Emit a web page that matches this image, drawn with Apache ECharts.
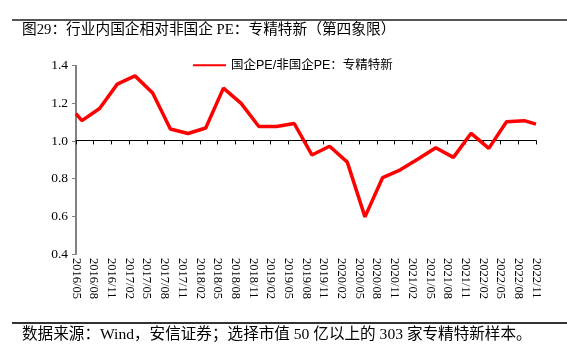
<!DOCTYPE html>
<html>
<head>
<meta charset="utf-8">
<script src="https://cdn.jsdelivr.net/npm/echarts@6/dist/echarts.min.js"></script>
<style>html,body{margin:0;padding:0;background:#fff;}#c{width:567px;height:358px;}</style>
</head>
<body>
<div id="c"></div>
<script>
// Axis month categories (ticks/labels every 3 months from 2016/05 to 2022/11)
const startYear = 2016, startMonth = 5, monthCount = 79;
const months = [];
for (let i = 0; i < monthCount; i++) {
  const m = startMonth - 1 + i;
  const y = startYear + Math.floor(m / 12);
  const mm = (m % 12) + 1;
  months.push(y + '/' + (mm < 10 ? '0' + mm : mm));
}
// Observation dates and values
const dates = ['2016/05','2016/06','2016/09','2016/12','2017/03','2017/06','2017/09','2017/12',
  '2018/03','2018/06','2018/09','2018/12','2019/03','2019/06','2019/09','2019/12',
  '2020/03','2020/06','2020/09','2020/12','2021/03','2021/06','2021/09','2021/12',
  '2022/03','2022/06','2022/09','2022/11'];
const ratio = [1.146,1.108,1.173,1.302,1.346,1.255,1.064,1.040,
  1.069,1.281,1.200,1.077,1.077,1.093,0.926,0.972,
  0.888,0.597,0.806,0.847,0.905,0.964,0.913,1.041,
  0.961,1.102,1.108,1.090];
const seriesName = '国企PE/非国企PE：专精特新';
const titleText = '图29：行业内国企相对非国企 PE：专精特新（第四象限）';
const footText = '数据来源：Wind，安信证券；选择市值 50 亿以上的 303 家专精特新样本。';

const serif = '"Liberation Serif", "Noto Sans CJK SC", serif';
const sans = '"Liberation Sans", "Noto Sans CJK SC", sans-serif';
const chart = echarts.init(document.getElementById('c'), null, {renderer: 'canvas'});
const gridL = 76, gridR = 31, gridT = 65.7, gridB = 104;
chart.setOption({
  animation: false,
  backgroundColor: '#fff',
  graphic: [
    {type: 'line', shape: {x1: 12, y1: 20, x2: 567, y2: 20}, style: {stroke: '#555', lineWidth: 2}},
    {type: 'line', shape: {x1: 12, y1: 323, x2: 567, y2: 323}, style: {stroke: '#333', lineWidth: 2}},
    {type: 'text', left: 22, top: 23, style: {text: titleText, font: '14.7px ' + serif, fill: '#000'}},
    {type: 'text', left: 22, top: 327, style: {text: footText, font: '15.6px ' + serif, fill: '#000'}}
  ],
  legend: {
    top: 54, left: 188, itemWidth: 33, itemHeight: 10, itemGap: 3,
    textStyle: {fontFamily: sans, fontSize: 12.5, color: '#000'},
    data: [{name: seriesName, icon: 'path://M0,4 L32,4 L32,6 L0,6 Z'}]
  },
  grid: [
    {left: gridL, right: gridR, top: gridT, bottom: gridB},
    {left: gridL, right: gridR, top: gridT, height: 140.4 - gridT}
  ],
  xAxis: [
    {
      type: 'category', gridIndex: 0, data: months, boundaryGap: false,
      axisLine: {show: false}, axisTick: {show: false},
      axisLabel: {interval: 2, rotate: -90, margin: 4, fontFamily: serif, fontSize: 12.5, color: '#000'}
    },
    {
      type: 'category', gridIndex: 1, data: months, boundaryGap: false, position: 'bottom',
      axisLine: {show: true, lineStyle: {color: '#000', width: 1}},
      axisTick: {show: true, interval: 2, length: 4, lineStyle: {color: '#000'}},
      axisLabel: {show: false}
    }
  ],
  yAxis: [
    {
      type: 'value', gridIndex: 0, min: 0.4, max: 1.4, interval: 0.2,
      splitLine: {show: false},
      axisLine: {show: true, lineStyle: {color: '#808080', width: 2}},
      axisTick: {show: true, length: 4, lineStyle: {color: '#808080', width: 1}},
      axisLabel: {margin: 8, fontFamily: serif, fontSize: 13.5, color: '#000', formatter: v => v.toFixed(1)}
    },
    {type: 'value', gridIndex: 1, show: false, min: 0, max: 1}
  ],
  series: [{
    name: seriesName, type: 'line', xAxisIndex: 0, yAxisIndex: 0,
    data: dates.map((d, i) => [d, ratio[i]]),
    symbol: 'none', lineStyle: {color: '#ff0000', width: 3.5}, itemStyle: {color: '#ff0000'}
  }]
});
</script>
</body>
</html>
